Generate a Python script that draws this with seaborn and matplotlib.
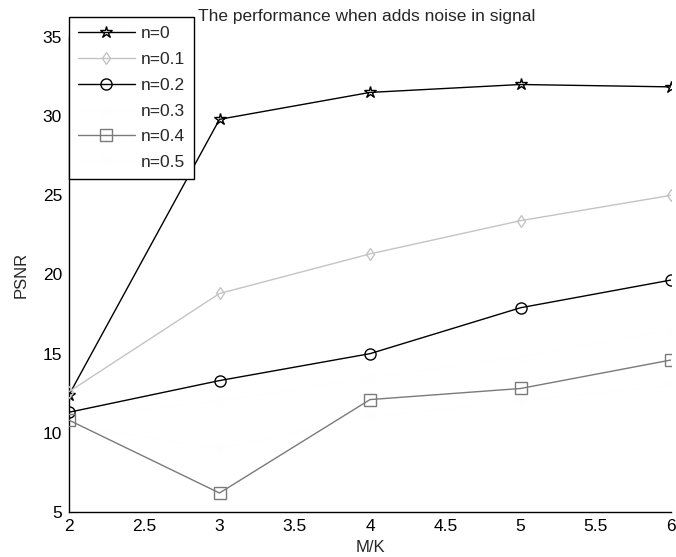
import matplotlib
matplotlib.use("Agg")
import matplotlib.pyplot as plt
import seaborn as sns
import pandas as pd
from matplotlib.lines import Line2D

# ---- data ----
mk = [2, 3, 4, 5, 6]
labels = ["n=0", "n=0.1", "n=0.2", "n=0.3", "n=0.4", "n=0.5"]
psnr_n00 = [12.4, 29.8, 31.5, 32.0, 31.85]
psnr_n01 = [12.6, 18.8, 21.3, 23.4, 25.0]
psnr_n02 = [11.3, 13.3, 15.0, 17.9, 19.65]
psnr_n03 = [11.0, 12.0, 13.5, 14.8, 16.5]
psnr_n04 = [10.8, 6.2, 12.1, 12.8, 14.6]
psnr_n05 = [10.5, 9.0, 11.0, 12.0, 13.0]
x_ticks = [2, 2.5, 3, 3.5, 4, 4.5, 5, 5.5, 6]
x_tick_labels = ["2", "2.5", "3", "3.5", "4", "4.5", "5", "5.5", "6"]
y_ticks = [5, 10, 15, 20, 25, 30, 35]
y_tick_labels = ["5", "10", "15", "20", "25", "30", "35"]

series = [psnr_n00, psnr_n01, psnr_n02, psnr_n03, psnr_n04, psnr_n05]
rows = []
for lab, vals in zip(labels, series):
    for xv, yv in zip(mk, vals):
        rows.append({"M/K": xv, "PSNR": yv, "n": lab})
df = pd.DataFrame(rows)

colors = {"n=0": "#000000", "n=0.1": "#c4c4c4", "n=0.2": "#000000",
          "n=0.3": "#fefefe", "n=0.4": "#7a7a7a", "n=0.5": "#fefefe"}
markers = {"n=0": "*", "n=0.1": "d", "n=0.2": "o",
           "n=0.3": "^", "n=0.4": "s", "n=0.5": "v"}
msizes = {"n=0": 9, "n=0.1": 6, "n=0.2": 8, "n=0.3": 6, "n=0.4": 8, "n=0.5": 6}
zorders = {"n=0": 3, "n=0.1": 3, "n=0.2": 3, "n=0.3": 1, "n=0.4": 3, "n=0.5": 1}

sns.set_style("white")
plt.rcParams["font.family"] = ["Liberation Sans", "DejaVu Sans"]

fig = plt.figure(figsize=(6.76, 5.57), dpi=100)
ax = fig.add_axes([69 / 676, 1 - 512 / 557, (671 - 69) / 676, (512 - 37) / 557])

for lab in labels:
    sub = df[df["n"] == lab]
    sns.lineplot(data=sub, x="M/K", y="PSNR", ax=ax, color=colors[lab],
                 marker=markers[lab], markersize=msizes[lab],
                 markerfacecolor="none", markeredgecolor=colors[lab],
                 markeredgewidth=1.0, linewidth=1.0, legend=False,
                 zorder=zorders[lab])

ax.set_xlim(2, 6)
ax.set_ylim(5, 35)
ax.set_xticks(x_ticks)
ax.set_xticklabels(x_tick_labels)
ax.set_yticks(y_ticks)
ax.set_yticklabels(y_tick_labels)
ax.tick_params(direction="in", length=4, width=1, labelsize=12.5, colors="#000000",
               pad=5)
for s in ["top", "right"]:
    ax.spines[s].set_visible(False)
for s in ["left", "bottom"]:
    ax.spines[s].set_color("#000000")
    ax.spines[s].set_linewidth(1.0)
ax.set_xlabel("M/K", fontsize=12, labelpad=4)
ax.set_ylabel("PSNR", fontsize=12, labelpad=10)

fig.text(367 / 676, 1 - 17 / 557, "The performance when adds noise in signal",
         ha="center", va="center", fontsize=12.5)

handles = [Line2D([], [], color=colors[l], marker=markers[l], markersize=msizes[l],
                  markerfacecolor="none", markeredgecolor=colors[l], linewidth=1.0)
           for l in labels]
leg = ax.legend(handles, labels, loc="upper left",
                bbox_to_anchor=(69 / 676, 1 - 17 / 557), bbox_transform=fig.transFigure,
                borderaxespad=0, fontsize=12.5, handlelength=3.3, labelspacing=0.62,
                frameon=True, fancybox=False, edgecolor="#000000", framealpha=1,
                borderpad=0.5, handletextpad=0.35)
leg.get_frame().set_linewidth(1.0)

fig.savefig("out.png", dpi=100, facecolor="white")
